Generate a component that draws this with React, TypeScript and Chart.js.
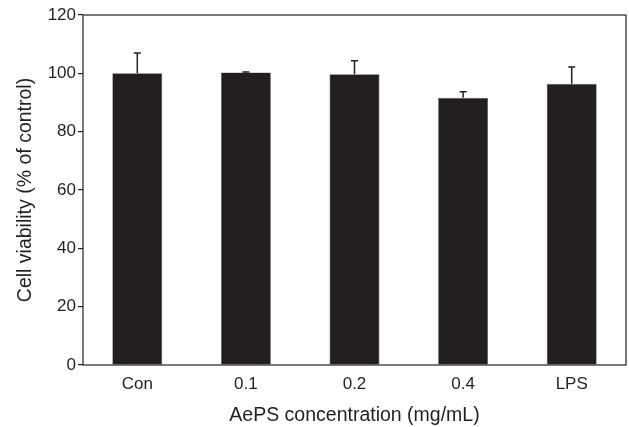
import React, { useEffect, useRef } from "react";
import { Chart, registerables } from "chart.js";

Chart.register(...registerables);

const categories = ["Con", "0.1", "0.2", "0.4", "LPS"];
const viability = [100, 100.3, 99.7, 91.6, 96.4];
const errors = [7.0, 0.2, 4.6, 2.1, 5.8];
const yTicks = [0, 20, 40, 60, 80, 100, 120];

const INK = "#231f20";
const FONT = "'Liberation Sans', Arial, sans-serif";

const boxPlugin = {
  id: "boxPlugin",
  afterDatasetsDraw(chart: any) {
    const { ctx, chartArea } = chart;
    const yScale = chart.scales.y;
    const meta = chart.getDatasetMeta(0);
    ctx.save();
    ctx.strokeStyle = INK;
    ctx.lineWidth = 1.5;
    meta.data.forEach((bar: any, i: number) => {
      const x = bar.x;
      const y0 = yScale.getPixelForValue(viability[i]);
      const y1 = yScale.getPixelForValue(viability[i] + errors[i]);
      ctx.beginPath();
      ctx.moveTo(x, y0);
      ctx.lineTo(x, y1);
      ctx.moveTo(x - 3.5, y1);
      ctx.lineTo(x + 3.5, y1);
      ctx.stroke();
    });
    ctx.lineWidth = 1.2;
    ctx.strokeRect(
      chartArea.left,
      chartArea.top,
      chartArea.right - chartArea.left,
      chartArea.bottom - chartArea.top
    );
    ctx.restore();
  },
};

export default function App() {
  const ref = useRef<HTMLCanvasElement | null>(null);
  useEffect(() => {
    if (!ref.current) return;
    const chart = new Chart(ref.current, {
      type: "bar",
      data: {
        labels: categories,
        datasets: [
          {
            data: viability,
            backgroundColor: INK,
            borderColor: "#5a5657",
            borderWidth: 0.6,
            barPercentage: 0.46,
            categoryPercentage: 1,
          },
        ],
      },
      options: {
        animation: false,
        responsive: false,
        maintainAspectRatio: false,
        layout: { padding: { top: 15, left: 0, right: 3, bottom: 0 } },
        plugins: {
          legend: { display: false },
          tooltip: { enabled: false },
        },
        scales: {
          x: {
            grid: { display: true, drawOnChartArea: false, drawTicks: false },
            border: { display: false },
            ticks: {
              color: INK,
              padding: 9,
              font: { family: FONT, size: 17 },
            },
            title: {
              display: true,
              text: "AePS concentration (mg/mL)",
              color: INK,
              padding: { top: 0, bottom: 0 },
              font: { family: FONT, size: 19.5 },
            },
            afterFit(scale: any) {
              scale.height = 62;
            },
          },
          y: {
            min: 0,
            max: 120,
            afterBuildTicks(scale: any) {
              scale.ticks = yTicks.map((v) => ({ value: v }));
            },
            grid: {
              display: true,
              drawOnChartArea: false,
              drawTicks: true,
              tickLength: 5,
              color: INK,
              lineWidth: 1.2,
            },
            border: { display: false },
            ticks: {
              color: INK,
              padding: 2,
              font: { family: FONT, size: 17 },
            },
            title: {
              display: true,
              text: "Cell viability (% of control)",
              color: INK,
              padding: { top: 14, bottom: 0 },
              font: { family: FONT, size: 19.5 },
            },
            afterFit(scale: any) {
              scale.width = 83;
            },
          },
        },
      },
      plugins: [boxPlugin],
    });
    return () => chart.destroy();
  }, []);
  return (
    <div style={{ position: "fixed", left: 0, top: 0, width: 629, height: 427, background: "#fff" }}>
      <canvas ref={ref} width={629} height={427} style={{ width: 629, height: 427 }} />
    </div>
  );
}
